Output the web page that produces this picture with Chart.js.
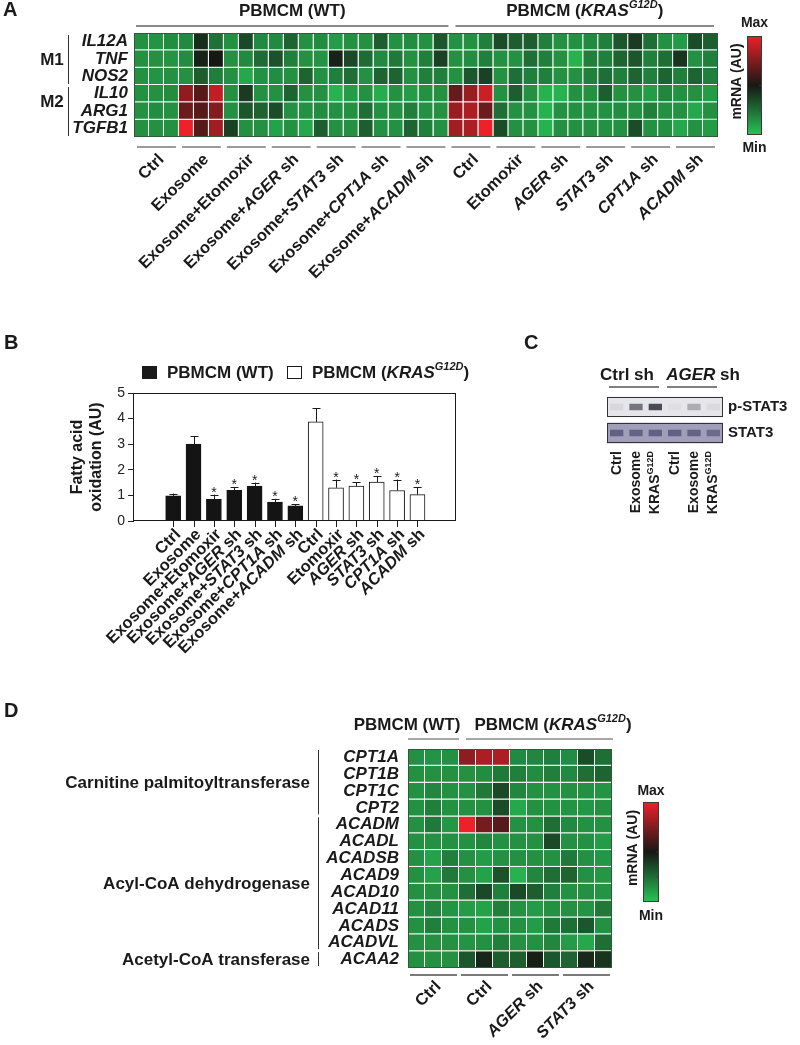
<!DOCTYPE html>
<html><head><meta charset="utf-8">
<title>Figure</title>
<script src="https://cdn.jsdelivr.net/npm/chart.js@4.4.1/dist/chart.umd.min.js"></script>
<style>
html,body{margin:0;padding:0;background:#ffffff;}
body{width:800px;height:1045px;position:relative;overflow:hidden;}
.box{position:absolute;}
</style></head>
<body>
<div class="box" style="left:0;top:0;width:800px;height:285px;"><canvas id="chartA"></canvas></div>
<div class="box" style="left:0;top:280px;width:540px;height:400px;"><canvas id="chartB"></canvas></div>
<div class="box" style="left:500px;top:330px;width:300px;height:190px;"><canvas id="chartC"></canvas></div>
<div class="box" style="left:0;top:690px;width:800px;height:355px;"><canvas id="chartD"></canvas></div>
<script>
const FONT = '"Liberation Sans", Arial, Helvetica, sans-serif';
const INK = '#1a1a1a';

// ---------------- Panel A data (relative mRNA, 0 = min, 1 = max) ----------------
const genesA = ['IL12A','TNF','NOS2','IL10','ARG1','TGFB1'];
const IL12A = [.15,.14,.16,.17,.44,.24,.15,.36,.17,.17,.28,.15,.16,.12,.15,.15,.30,.15,.16,.15, .32,.15,.15,.20,.35,.30,.30,.20,.15,.15,.17,.20,.32,.40,.25,.15,.12,.35,.30];
const TNF   = [.15,.15,.14,.16,.47,.50,.15,.17,.26,.33,.20,.15,.14,.47,.36,.26,.17,.22,.15,.20, .38,.15,.16,.20,.15,.15,.25,.20,.15,.05,.20,.20,.28,.32,.20,.25,.42,.15,.20];
const NOS2  = [.15,.14,.15,.15,.30,.20,.15,.08,.15,.16,.15,.28,.15,.20,.25,.15,.28,.28,.15,.20, .20,.15,.32,.38,.15,.25,.20,.20,.15,.15,.20,.25,.20,.28,.20,.28,.20,.28,.20];
const IL10  = [.15,.15,.16,.78,.65,.90,.15,.40,.15,.15,.28,.15,.15,.05,.12,.15,.07,.15,.12,.15, .15,.68,.80,.92,.15,.30,.15,.05,.05,.15,.15,.30,.15,.15,.12,.18,.15,.15,.12];
const ARG1  = [.15,.16,.15,.70,.65,.75,.15,.32,.28,.35,.15,.15,.16,.15,.15,.25,.15,.15,.20,.15, .15,.80,.85,.70,.25,.15,.15,.05,.15,.15,.15,.15,.16,.15,.20,.15,.15,.08,.15];
const TGFB1 = [.15,.15,.15,1.0,.65,.82,.38,.15,.15,.10,.15,.08,.30,.15,.15,.30,.15,.15,.28,.20, .15,.82,.85,1.0,.35,.15,.15,.05,.15,.15,.15,.15,.15,.35,.15,.15,.08,.15,.12];
const rowsA = [IL12A, TNF, NOS2, IL10, ARG1, TGFB1];
const treatmentsA = ['Ctrl','Exosome','Exosome+Etomoxir','Exosome+*AGER* sh','Exosome+*STAT3* sh','Exosome+*CPT1A* sh','Exosome+*ACADM* sh',
                     'Ctrl','Etomoxir','*AGER* sh','*STAT3* sh','*CPT1A* sh','*ACADM* sh'];
const replicatesA = 3;
const wtGroupsA = 7;
const conditionNames = ['PBMCM (WT)', 'PBMCM (*KRAS*~G12D~)'];
const polarityNames = ['M1','M2'];
const polarityRows = [[0,2],[3,5]];

// ---------------- Panel B data (fatty acid oxidation, AU) ----------------
const treatmentsB = ['Ctrl','Exosome','Exosome+Etomoxir','Exosome+*AGER* sh','Exosome+*STAT3* sh','Exosome+*CPT1A* sh','Exosome+*ACADM* sh',
                     'Ctrl','Etomoxir','*AGER* sh','*STAT3* sh','*CPT1A* sh','*ACADM* sh'];
const wtFAO      = [0.98, 3.00, 0.85, 1.20, 1.36, 0.74, 0.59];
const wtFAOerr   = [0.09, 0.31, 0.18, 0.13, 0.14, 0.13, 0.06];
const krasFAO    = [3.87, 1.30, 1.36, 1.52, 1.19, 1.03];
const krasFAOerr = [0.54, 0.32, 0.16, 0.24, 0.43, 0.29];
const significant = [false,false,true,true,true,true,true,false,true,true,true,true,true];
const yTicksB = [0,1,2,3,4,5];

// ---------------- Panel C data (band intensity) ----------------
const blotTargets = ['p-STAT3','STAT3'];
const laneLabelsC = ['Ctrl','Exosome','KRAS^G12D^','Ctrl','Exosome','KRAS^G12D^'];
const laneGroupsC = ['Ctrl sh','*AGER* sh'];
const pSTAT3 = [0.08, 0.62, 0.85, 0.04, 0.32, 0.06];
const STAT3  = [0.62, 0.60, 0.62, 0.62, 0.60, 0.52];

// ---------------- Panel D data ----------------
const genesD = ['CPT1A','CPT1B','CPT1C','CPT2','ACADM','ACADL','ACADSB','ACAD9','ACAD10','ACAD11','ACADS','ACADVL','ACAA2'];
const CPT1A  = [.15,.14,.15,.78,.85,.85,.17,.18,.20,.16,.35,.25];
const CPT1B  = [.15,.15,.15,.15,.16,.22,.20,.16,.20,.17,.25,.28];
const CPT1C  = [.15,.18,.15,.15,.22,.36,.18,.15,.15,.15,.15,.14];
const CPT2   = [.15,.20,.15,.15,.15,.35,.08,.15,.15,.14,.13,.15];
const ACADM  = [.15,.22,.13,1.0,.72,.65,.15,.15,.25,.17,.15,.15];
const ACADL  = [.15,.15,.15,.15,.18,.15,.15,.15,.36,.15,.15,.12];
const ACADSB = [.15,.10,.20,.15,.12,.15,.15,.15,.15,.22,.15,.13];
const ACAD9  = [.15,.10,.22,.15,.10,.33,.05,.18,.25,.28,.15,.13];
const ACAD10 = [.15,.15,.15,.25,.36,.20,.36,.30,.20,.15,.15,.14];
const ACAD11 = [.15,.18,.14,.12,.10,.20,.15,.12,.15,.15,.14,.22];
const ACADS  = [.15,.20,.15,.15,.10,.15,.15,.12,.22,.25,.32,.15];
const ACADVL = [.15,.15,.15,.14,.15,.20,.15,.15,.18,.12,.08,.25];
const ACAA2  = [.15,.15,.15,.32,.46,.30,.30,.48,.32,.28,.45,.42];
const rowsD = [CPT1A,CPT1B,CPT1C,CPT2,ACADM,ACADL,ACADSB,ACAD9,ACAD10,ACAD11,ACADS,ACADVL,ACAA2];
const treatmentsD = ['Ctrl','Ctrl','*AGER* sh','*STAT3* sh'];
const replicatesD = 3;
const familyNames = ['Carnitine palmitoyltransferase','Acyl-CoA dehydrogenase','Acetyl-CoA transferase'];
const familyRows = [[0,3],[4,11],[12,12]];

// ---------------- helpers ----------------
function heatColor(v){
  const G=[40,196,86], K=[22,24,20], R=[238,32,42];
  let a,b,t;
  if(v<=0.5){a=G;b=K;t=v/0.5;} else {a=K;b=R;t=(v-0.5)/0.5;}
  return 'rgb('+a.map((c,i)=>Math.round(c+(b[i]-c)*t)).join(',')+')';
}
function parseRich(s){
  const out=[];
  s.split(/(\*[^*]+\*|\^[^^]+\^|~[^~]+~)/g).forEach(p=>{
    if(!p) return;
    if(p[0]==='*') out.push({t:p.slice(1,-1),i:true});
    else if(p[0]==='^') out.push({t:p.slice(1,-1),sup:true});
    else if(p[0]==='~') out.push({t:p.slice(1,-1),sup:true,i:true});
    else out.push({t:p});
  });
  return out;
}
function segFont(s,size,weight){
  const px = s.sup ? Math.round(size*0.62) : size;
  return (s.i?'italic ':'')+weight+' '+px+'px '+FONT;
}
function drawRich(ctx,str,x,y,o){
  o=Object.assign({size:16,angle:0,align:'left',color:INK,weight:'bold'},o||{});
  const segs=parseRich(str);
  ctx.save(); ctx.translate(x,y); ctx.rotate(o.angle);
  ctx.fillStyle=o.color; ctx.textBaseline='middle'; ctx.textAlign='left';
  let total=0;
  const ws=segs.map(s=>{ctx.font=segFont(s,o.size,o.weight); const w=ctx.measureText(s.t).width; total+=w; return w;});
  let cx = o.align==='right' ? -total : (o.align==='center' ? -total/2 : 0);
  segs.forEach((s,k)=>{ctx.font=segFont(s,o.size,o.weight); ctx.fillText(s.t,cx,s.sup?-o.size*0.33:0); cx+=ws[k];});
  ctx.restore();
}
function seg(ctx,x1,y1,x2,y2){ctx.beginPath();ctx.moveTo(x1,y1);ctx.lineTo(x2,y2);ctx.stroke();}
function colorbar(ctx,x0,y0,w,h,maxY,minY,titleX){
  const g=ctx.createLinearGradient(0,y0,0,y0+h);
  for(let i=0;i<=20;i++){g.addColorStop(i/20,heatColor(1-i/20));}
  ctx.fillStyle=g; ctx.fillRect(x0,y0,w,h);
  ctx.strokeStyle='#3a3a3a'; ctx.lineWidth=1; ctx.strokeRect(x0+0.5,y0+0.5,w-1,h-1);
  ctx.strokeStyle='rgba(60,60,60,0.8)';
  [0.25,0.5,0.75].forEach(f=>seg(ctx,x0+w-3,y0+h*f,x0+w-1,y0+h*f));
  drawRich(ctx,'Max',x0+w/2,maxY,{size:14,align:'center'});
  drawRich(ctx,'Min',x0+w/2,minY,{size:14,align:'center'});
  drawRich(ctx,'mRNA (AU)',titleX,y0+h/2-4,{size:14,align:'center',angle:-Math.PI/2});
}
function heatDatasets(rows,nCols){
  const ds=[];
  for(let c=0;c<nCols;c++){
    ds.push({
      data: rows.map(()=>1), stack:'cells',
      backgroundColor: (ctx)=>heatColor(rows[ctx.dataIndex][c]),
      borderColor:'#f4f8f2',
      borderWidth: (ctx)=>({left:0,top:0,right:(c<nCols-1?1:0),bottom:(ctx.dataIndex<rows.length-1?1:0)}),
      borderSkipped:false, barPercentage:1, categoryPercentage:1, inflateAmount:0
    });
  }
  return ds;
}
function heatOptions(padding,yWidth,tickPad,nCols){
  return {
    indexAxis:'y', responsive:true, maintainAspectRatio:false, animation:false, events:[], devicePixelRatio:1,
    layout:{padding:padding},
    plugins:{legend:{display:false},tooltip:{enabled:false}},
    scales:{
      x:{stacked:true,min:0,max:nCols,display:false},
      y:{stacked:true,grid:{display:false,drawTicks:false},border:{display:false},
         ticks:{autoSkip:false,padding:tickPad,color:INK,font:{family:FONT,size:17,weight:'bold',style:'italic'}},
         afterFit:(s)=>{s.width=yWidth;}}
    }
  };
}
const LABEL_SIZE = 16.5;

// ---------------- Panel A ----------------
const nColsA = treatmentsA.length*replicatesA;
const decorA = {id:'decorA', afterDraw(chart){
  const ctx=chart.ctx, x=chart.scales.x, y=chart.scales.y, a=chart.chartArea;
  ctx.save();
  ctx.strokeStyle='#2e5a3a'; ctx.lineWidth=1;
  ctx.strokeRect(a.left+0.5,a.top+0.5,a.width-1,a.height-1);
  drawRich(ctx,'A',3,10,{size:20});
  const split = wtGroupsA*replicatesA;
  ctx.strokeStyle='#8a8a8a'; ctx.lineWidth=2;
  const spans=[[x.getPixelForValue(0)+2,x.getPixelForValue(split)],[x.getPixelForValue(split)+7,x.getPixelForValue(nColsA)-4]];
  spans.forEach((s,k)=>{ seg(ctx,s[0],a.top-7,s[1],a.top-7); drawRich(ctx,conditionNames[k],(s[0]+s[1])/2,a.top-22,{size:17,align:'center'}); });
  ctx.strokeStyle='#7a7a7a'; ctx.lineWidth=1.5;
  treatmentsA.forEach((t,k)=>{
    const l=x.getPixelForValue(k*replicatesA), r=x.getPixelForValue((k+1)*replicatesA);
    seg(ctx,l+3,a.bottom+10,r-3,a.bottom+10);
    drawRich(ctx,t,(l+r)/2+5,a.bottom+20,{size:LABEL_SIZE,angle:-Math.PI/4,align:'right'});
  });
  ctx.strokeStyle='#333'; ctx.lineWidth=1;
  const rh = y.getPixelForValue(1)-y.getPixelForValue(0);
  polarityRows.forEach((r)=>{
    seg(ctx,68.5,y.getPixelForValue(r[0])-rh/2+2,68.5,y.getPixelForValue(r[1])+rh/2-1);
  });
  drawRich(ctx,polarityNames[0],52,y.getPixelForValue(1.1),{size:17,align:'center'});
  drawRich(ctx,polarityNames[1],52,y.getPixelForValue(3.5),{size:17,align:'center'});
  colorbar(ctx,747,36,15,99,23,148,737);
  ctx.restore();
}};
new Chart(document.getElementById('chartA'),{
  type:'bar',
  data:{labels:genesA, datasets:heatDatasets(rowsA,nColsA)},
  options:heatOptions({left:0,top:33,right:82,bottom:148},134,6,nColsA),
  plugins:[decorA]
});

// ---------------- Panel B ----------------
const decorB = {id:'decorB', afterDraw(chart){
  const ctx=chart.ctx, a=chart.chartArea, ys=chart.scales.y;
  ctx.save();
  ctx.strokeStyle=INK; ctx.lineWidth=1;
  ctx.strokeRect(Math.round(a.left)+0.5,Math.round(a.top)+0.5,Math.round(a.width)-1,Math.round(a.height)-1);
  drawRich(ctx,'B',4,63,{size:20});
  drawRich(ctx,'C',524,63,{size:20});
  ctx.fillStyle=INK; ctx.fillRect(142,86,15,13);
  drawRich(ctx,conditionNames[0],167,93,{size:17});
  ctx.fillStyle='#fff'; ctx.fillRect(287,86,15,13);
  ctx.strokeStyle=INK; ctx.strokeRect(287.5,86.5,14,12);
  drawRich(ctx,conditionNames[1],312,93,{size:17});
  const mid=(a.top+a.bottom)/2;
  drawRich(ctx,'Fatty acid',78,mid,{size:16,angle:-Math.PI/2,align:'center'});
  drawRich(ctx,'oxidation (AU)',97,mid,{size:16,angle:-Math.PI/2,align:'center'});
  const bars=[...chart.getDatasetMeta(0).data,...chart.getDatasetMeta(1).data];
  const vals=[...wtFAO,...krasFAO], errs=[...wtFAOerr,...krasFAOerr];
  ctx.strokeStyle=INK; ctx.lineWidth=1;
  bars.forEach((b,i)=>{
    const top=ys.getPixelForValue(vals[i]+errs[i]);
    const bx=Math.round(b.x)+0.5;
    seg(ctx,bx,b.y,bx,top); seg(ctx,bx-4,Math.round(top)+0.5,bx+4,Math.round(top)+0.5);
    if(significant[i]){ctx.fillStyle=INK;ctx.font='14px '+FONT;ctx.textAlign='center';ctx.textBaseline='alphabetic';ctx.fillText('*',b.x,top+2);}
    seg(ctx,bx,a.bottom,bx,a.bottom+6);
    drawRich(ctx,treatmentsB[i],b.x+5,a.bottom+11,{size:LABEL_SIZE,angle:-Math.PI/4,align:'right'});
  });
  ctx.restore();
}};
new Chart(document.getElementById('chartB'),{
  type:'bar',
  data:{datasets:[
    {label:'WT', data:wtFAO.map((v,i)=>({x:i,y:v})), backgroundColor:'#141414', borderColor:'#141414', borderWidth:1, barThickness:15, grouped:false},
    {label:'KRAS', data:krasFAO.map((v,i)=>({x:i+wtFAO.length,y:v})), backgroundColor:'#ffffff', borderColor:'#141414', borderWidth:1, barThickness:15, grouped:false}
  ]},
  options:{
    responsive:true, maintainAspectRatio:false, animation:false, events:[], devicePixelRatio:1,
    layout:{padding:{left:0,top:113,right:84,bottom:159}},
    plugins:{legend:{display:false},tooltip:{enabled:false}},
    scales:{
      x:{type:'linear',min:-0.84,max:12.76,display:false},
      y:{min:yTicksB[0],max:yTicksB[yTicksB.length-1],
         afterBuildTicks:(s)=>{s.ticks=yTicksB.map(v=>({value:v}));},
         ticks:{color:'#222',padding:3,font:{family:FONT,size:14}},
         grid:{drawOnChartArea:false,drawTicks:true,tickLength:5,color:'#222'},
         border:{display:true,color:'#222'},
         afterFit:(s)=>{s.width=133;}}
    }
  },
  plugins:[decorB]
});

// ---------------- Panel C ----------------
const bgC = ['rgb(230,230,234)','rgb(160,158,184)'];
const bandDark = [[48,48,58],[62,60,98]];
function bandColor(row,v){
  const bg = row===0 ? [230,230,234] : [160,158,184];
  const d = bandDark[row];
  return 'rgb('+bg.map((c,i)=>Math.round(c+(d[i]-c)*v)).join(',')+')';
}
const intensityC = [pSTAT3, STAT3];
const dsC = [];
laneLabelsC.forEach((l,L)=>{
  dsC.push({data:blotTargets.map(()=>1), stack:'band', order:1, grouped:false,
    backgroundColor:(ctx)=>bandColor(ctx.dataIndex,intensityC[ctx.dataIndex][L]),
    borderColor:(ctx)=>bgC[ctx.dataIndex], borderWidth:{left:3,right:3,top:0,bottom:0}, borderSkipped:false,
    barPercentage:0.36, categoryPercentage:0.77, inflateAmount:0});
});
laneLabelsC.forEach((l,L)=>{
  dsC.push({data:blotTargets.map(()=>1), stack:'bg', order:2, grouped:false,
    backgroundColor:bgC, borderWidth:0, barPercentage:1, categoryPercentage:0.77, inflateAmount:0.3});
});
const decorC = {id:'decorC', afterDraw(chart){
  const ctx=chart.ctx, a=chart.chartArea, x=chart.scales.x, y=chart.scales.y;
  const n=laneLabelsC.length;
  ctx.save();
  ctx.strokeStyle='#333'; ctx.lineWidth=1;
  const rowH=(y.getPixelForValue(1)-y.getPixelForValue(0))*0.77;
  blotTargets.forEach((t,r)=>{
    const yc=y.getPixelForValue(r);
    ctx.strokeRect(Math.round(x.getPixelForValue(0))+0.5,Math.round(yc-rowH/2)+0.5,Math.round(x.getPixelForValue(n)-x.getPixelForValue(0))-1,Math.round(rowH)-1);
  });
  ctx.strokeStyle='#555'; ctx.lineWidth=1.5;
  const centers=[127,203];
  laneGroupsC.forEach((g,k)=>{
    seg(ctx,x.getPixelForValue(3*k)+2,a.top-7,x.getPixelForValue(3*k+3)-6,a.top-7);
    drawRich(ctx,g,centers[k],a.top-19,{size:17,align:'center'});
  });
  laneLabelsC.forEach((l,L)=>{
    drawRich(ctx,l,x.getPixelForValue(L+0.5),a.bottom+5,{size:14,angle:-Math.PI/2,align:'right'});
  });
  ctx.restore();
}};
new Chart(document.getElementById('chartC'),{
  type:'bar',
  data:{labels:blotTargets, datasets:dsC},
  options:{
    indexAxis:'y', responsive:true, maintainAspectRatio:false, animation:false, events:[], devicePixelRatio:1,
    layout:{padding:{left:107,top:64,right:0,bottom:74}},
    plugins:{legend:{display:false},tooltip:{enabled:false}},
    scales:{
      x:{stacked:true,min:0,max:laneLabelsC.length,display:false},
      y:{stacked:true,position:'right',grid:{display:false,drawTicks:false},border:{display:false},
         ticks:{padding:5,color:INK,font:{family:FONT,size:15,weight:'bold'}},
         afterFit:(s)=>{s.width=77;}}
    }
  },
  plugins:[decorC]
});

// ---------------- Panel D ----------------
const nColsD = treatmentsD.length*replicatesD;
const decorD = {id:'decorD', afterDraw(chart){
  const ctx=chart.ctx, x=chart.scales.x, y=chart.scales.y, a=chart.chartArea;
  ctx.save();
  ctx.strokeStyle='#2e5a3a'; ctx.lineWidth=1;
  ctx.strokeRect(a.left+0.5,a.top+0.5,a.width-1,a.height-1);
  drawRich(ctx,'D',4,21,{size:20});
  ctx.strokeStyle='#8a8a8a'; ctx.lineWidth=1.5;
  seg(ctx,x.getPixelForValue(0),a.top-10,x.getPixelForValue(3),a.top-10);
  seg(ctx,x.getPixelForValue(3)+7,a.top-10,x.getPixelForValue(nColsD)+1,a.top-10);
  drawRich(ctx,conditionNames[0],407,35,{size:17,align:'center'});
  drawRich(ctx,conditionNames[1],553,35,{size:17,align:'center'});
  const rh=y.getPixelForValue(1)-y.getPixelForValue(0);
  ctx.strokeStyle='#333'; ctx.lineWidth=1;
  familyRows.forEach((r,k)=>{
    const t=y.getPixelForValue(r[0])-rh/2+1, b=y.getPixelForValue(r[1])+rh/2-2;
    seg(ctx,318.5,t,318.5,b);
    drawRich(ctx,familyNames[k],310,(t+b)/2+1,{size:17,align:'right'});
  });
  ctx.strokeStyle='#7a7a7a'; ctx.lineWidth=2;
  treatmentsD.forEach((t,k)=>{
    const l=x.getPixelForValue(k*replicatesD), r=x.getPixelForValue((k+1)*replicatesD);
    seg(ctx,l+2,a.bottom+7,r-2,a.bottom+7);
    drawRich(ctx,t,(l+r)/2+5,a.bottom+16,{size:LABEL_SIZE,angle:-Math.PI/4,align:'right'});
  });
  colorbar(ctx,643,112,16,100,101,226,633);
  ctx.restore();
}};
new Chart(document.getElementById('chartD'),{
  type:'bar',
  data:{labels:genesD, datasets:heatDatasets(rowsD,nColsD)},
  options:heatOptions({left:0,top:59,right:188,bottom:77},408,9,nColsD),
  plugins:[decorD]
});
</script>
</body></html>
